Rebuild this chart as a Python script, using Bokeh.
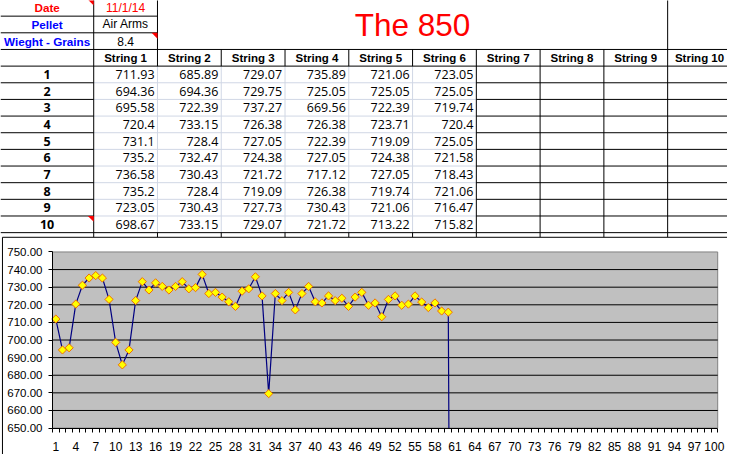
import math
from bokeh.plotting import figure
from bokeh.models import Range1d, FixedTicker, NumeralTickFormatter, LinearAxis
from bokeh.core.properties import value
from bokeh.embed import file_html
from bokeh.resources import INLINE

# ---------------- data ----------------
info_labels = ["Date", "Pellet", "Wieght - Grains"]
info_values = ["11/1/14", "Air Arms", "8.4"]
title_text = "The 850"
string_names = ["String 1", "String 2", "String 3", "String 4", "String 5",
                "String 6", "String 7", "String 8", "String 9", "String 10"]
shot_numbers = ["1", "2", "3", "4", "5", "6", "7", "8", "9", "10"]
string1 = [711.93, 694.36, 695.58, 720.4, 731.1, 735.2, 736.58, 735.2, 723.05, 698.67]
string2 = [685.89, 694.36, 722.39, 733.15, 728.4, 732.47, 730.43, 728.4, 730.43, 733.15]
string3 = [729.07, 729.75, 737.27, 726.38, 727.05, 724.38, 721.72, 719.09, 727.73, 729.07]
string4 = [735.89, 725.05, 669.56, 726.38, 722.39, 727.05, 717.12, 726.38, 730.43, 721.72]
string5 = [721.06, 725.05, 722.39, 723.71, 719.09, 724.38, 727.05, 719.74, 721.06, 713.22]
string6 = [723.05, 725.05, 719.74, 720.4, 725.05, 721.58, 718.43, 721.06, 716.47, 715.82]
strings = [string1, string2, string3, string4, string5, string6]
empty_cell_value = [0]          # shot 61: empty cell plotted as zero
y_ticks = [650, 660, 670, 680, 690, 700, 710, 720, 730, 740, 750]
x_tick_labels = list(range(1, 101, 3))
n_categories = 100

# ---------------- geometry (reference pixels) ----------------
X_END, Y_END = 741, 464          # visible part of the reference sheet
PAGE_W, PAGE_H = 727, 454
SPLIT = 242
col_edges = [0, 95, 160, 225, 290, 355, 420, 485, 550, 615, 680, 745]
row_h = 17.02
row_edges = [16 + row_h * i for i in range(14)]
row_tops = [-1] + row_edges[:-1]
row_mid = [(a + b) / 2 for a, b in zip(row_tops, row_edges)]

# chart plot area in reference pixels
PL, PR, PT, PB = 53, 731, 257, 437
step = (PR - PL) / n_categories
vpp = (PB - PT) / (y_ticks[-1] - y_ticks[0])

BLACK = "black"
LIGHT = "#D0D7E5"
ARIAL = value("Liberation Sans")
CALIBRI = value("Open Sans")

p = figure(width=PAGE_W, height=PAGE_H, output_backend="svg", toolbar_location=None,
           x_range=Range1d(0, X_END), y_range=Range1d(Y_END, 0),
           x_axis_type=None, y_axis_type=None, min_border=0)
p.outline_line_color = None
p.background_fill_color = "white"
p.border_fill_color = "white"
p.extra_x_ranges = {"cx": Range1d(0.5 - PL / step, 0.5 + (X_END - PL) / step)}
p.extra_y_ranges = {"cy": Range1d(y_ticks[0] - (Y_END - PB) / vpp, y_ticks[0] + PB / vpp)}

# ---------------- spreadsheet table ----------------
bx0, bx1, by0, by1 = [], [], [], []
lx0, lx1, ly0, ly1 = [], [], [], []
def hb(y, xa, xb):
    bx0.append(xa); bx1.append(xb); by0.append(y); by1.append(y)
def hl(y, xa, xb):
    lx0.append(xa); lx1.append(xb); ly0.append(y); ly1.append(y)
def vb(x, ya, yb):
    bx0.append(x); bx1.append(x); by0.append(ya); by1.append(yb)
def vl(x, ya, yb):
    lx0.append(x); lx1.append(x); ly0.append(ya); ly1.append(yb)

RIGHT = X_END + 5
hb(row_edges[0], 0, col_edges[2])
hb(row_edges[1], 0, col_edges[2])
hb(row_edges[2], 0, RIGHT)
hb(row_edges[3], 0, RIGHT)
for k in range(4, 13):
    hb(row_edges[k], 0, col_edges[1])
    hl(row_edges[k], col_edges[1], col_edges[7])
    hb(row_edges[k], col_edges[7], RIGHT)
hb(row_edges[13], 0, RIGHT)
vb(col_edges[1], -1, SPLIT)
vb(col_edges[2], -1, row_edges[3])
vl(col_edges[2], row_edges[3], row_edges[13])
vb(col_edges[2], row_edges[13], SPLIT)
for ci in range(3, 7):
    vb(col_edges[ci], row_edges[2], row_edges[3])
    vl(col_edges[ci], row_edges[3], row_edges[13])
    vb(col_edges[ci], row_edges[13], SPLIT)
for ci in range(7, 10):
    vb(col_edges[ci], row_edges[2], SPLIT)
vb(col_edges[10], -1, SPLIT)

p.segment(lx0, ly0, lx1, ly1, line_color=LIGHT, line_width=1)
p.segment(bx0, by0, bx1, by1, line_color=BLACK, line_width=1)

# comment indicators (red triangles)
tri_cells = [(1, 0), (2, 2), (1, 13)]
txs, tys = [], []
for ce, r in tri_cells:
    xr = col_edges[ce]
    yt = row_tops[r] if r > 0 else -1
    txs.append([xr - 6, xr, xr])
    tys.append([yt, yt, yt + 6])
p.patches(txs, tys, fill_color="#FF0000", line_color=None)

info_colors = ["#FF0000", "#0000FF", "#0000FF"]
val_colors = ["#FF0000", "black", "black"]
cxA = (col_edges[0] + col_edges[1]) / 2
cxB = (col_edges[1] + col_edges[2]) / 2
for i in range(3):
    p.text([cxA], [row_mid[i]], text=[info_labels[i]], text_align="center",
           text_baseline="middle", text_font=ARIAL, text_font_size="11.7px",
           text_font_style="bold", text_color=info_colors[i])
    p.text([cxB], [row_mid[i]], text=[info_values[i]], text_align="center",
           text_baseline="middle", text_font=ARIAL, text_font_size="12px",
           text_color=val_colors[i])

p.text([(col_edges[2] + col_edges[10]) / 2], [25], text=[title_text], text_align="center",
       text_baseline="middle", text_font=ARIAL, text_font_size="31.5px",
       text_color="#FF0000")

hx = [(col_edges[i + 1] + col_edges[i + 2]) / 2 for i in range(10)]
p.text(hx, [row_mid[3]] * 10, text=string_names, text_align="center",
       text_baseline="middle", text_font=ARIAL, text_font_size="11.5px",
       text_font_style="bold", text_color="black")

p.text([cxA] * 10, row_mid[4:14], text=shot_numbers, text_align="center",
       text_baseline="middle", text_font=CALIBRI, text_font_size="12.5px",
       text_font_style="bold", text_color="black")

vx, vy, vt = [], [], []
for si, s in enumerate(strings):
    for ri, v in enumerate(s):
        vx.append(col_edges[si + 2] - 3)
        vy.append(row_mid[4 + ri])
        vt.append(str(v))
p.text(vx, vy, text=vt, text_align="right", text_baseline="middle",
       text_font=CALIBRI, text_font_size="12.5px", text_color="black")

# ---------------- chart ----------------
BOX_L = 2
p.quad(left=[BOX_L], right=[RIGHT], top=[SPLIT], bottom=[Y_END + 5],
       fill_color="white", line_color=None)
p.segment([BOX_L, BOX_L], [SPLIT, SPLIT], [RIGHT, BOX_L], [SPLIT, Y_END + 5],
          line_color=BLACK, line_width=1)

lo, hi = 0.5, n_categories + 0.5
p.quad(left=[lo], right=[hi], bottom=[y_ticks[0]], top=[y_ticks[-1]],
       fill_color="#C0C0C0", line_color="#808080", line_width=1,
       x_range_name="cx", y_range_name="cy")
grid_vals = y_ticks[1:-1]
p.segment([lo] * len(grid_vals), grid_vals, [hi] * len(grid_vals), grid_vals,
          line_color=BLACK, line_width=1, x_range_name="cx", y_range_name="cy")

series = [v for s in strings for v in s]
series_all = series + empty_cell_value
xs_all = list(range(1, len(series_all) + 1))
p.line(xs_all, series_all, line_color="#000080", line_width=1.2,
       x_range_name="cx", y_range_name="cy")
p.scatter(xs_all[:len(series)], series, marker="square", angle=math.pi / 4, size=5.8,
          fill_color="#FFFF00", line_color="#F07000", line_width=1,
          x_range_name="cx", y_range_name="cy")

# white band below the plot area (the plot area clips the series)
p.quad(left=[BOX_L + 0.6], right=[RIGHT], top=[y_ticks[0]],
       bottom=[y_ticks[0] - (Y_END + 10 - PB) / vpp],
       fill_color="white", line_color=None, y_range_name="cy")

xa = LinearAxis(x_range_name="cx", y_range_name="cy", fixed_location=y_ticks[0],
                bounds=(lo, hi))
xa.ticker = FixedTicker(ticks=x_tick_labels,
                        minor_ticks=[i + 0.5 for i in range(0, n_categories + 1)])
xa.major_tick_out = 0
xa.major_tick_in = 0
xa.minor_tick_out = 4
xa.minor_tick_in = 0
xa.major_label_standoff = 10
xa.axis_line_color = "black"
xa.minor_tick_line_color = "black"
xa.major_label_text_font = "Liberation Sans"
xa.major_label_text_font_size = "12px"
xa.major_label_text_color = "black"
p.add_layout(xa, "below")

ya = LinearAxis(x_range_name="cx", y_range_name="cy", fixed_location=lo,
                bounds=(y_ticks[0], y_ticks[-1]))
ya.ticker = FixedTicker(ticks=y_ticks)
ya.formatter = NumeralTickFormatter(format="0.00")
ya.major_tick_out = 4
ya.major_tick_in = 0
ya.minor_tick_out = 0
ya.minor_tick_in = 0
ya.major_label_standoff = 6
ya.axis_line_color = "black"
ya.major_tick_line_color = "black"
ya.major_label_text_font = "Liberation Sans"
ya.major_label_text_font_size = "11.5px"
ya.major_label_text_color = "black"
p.add_layout(ya, "left")

open("out.html", "w").write(file_html(p, INLINE))
